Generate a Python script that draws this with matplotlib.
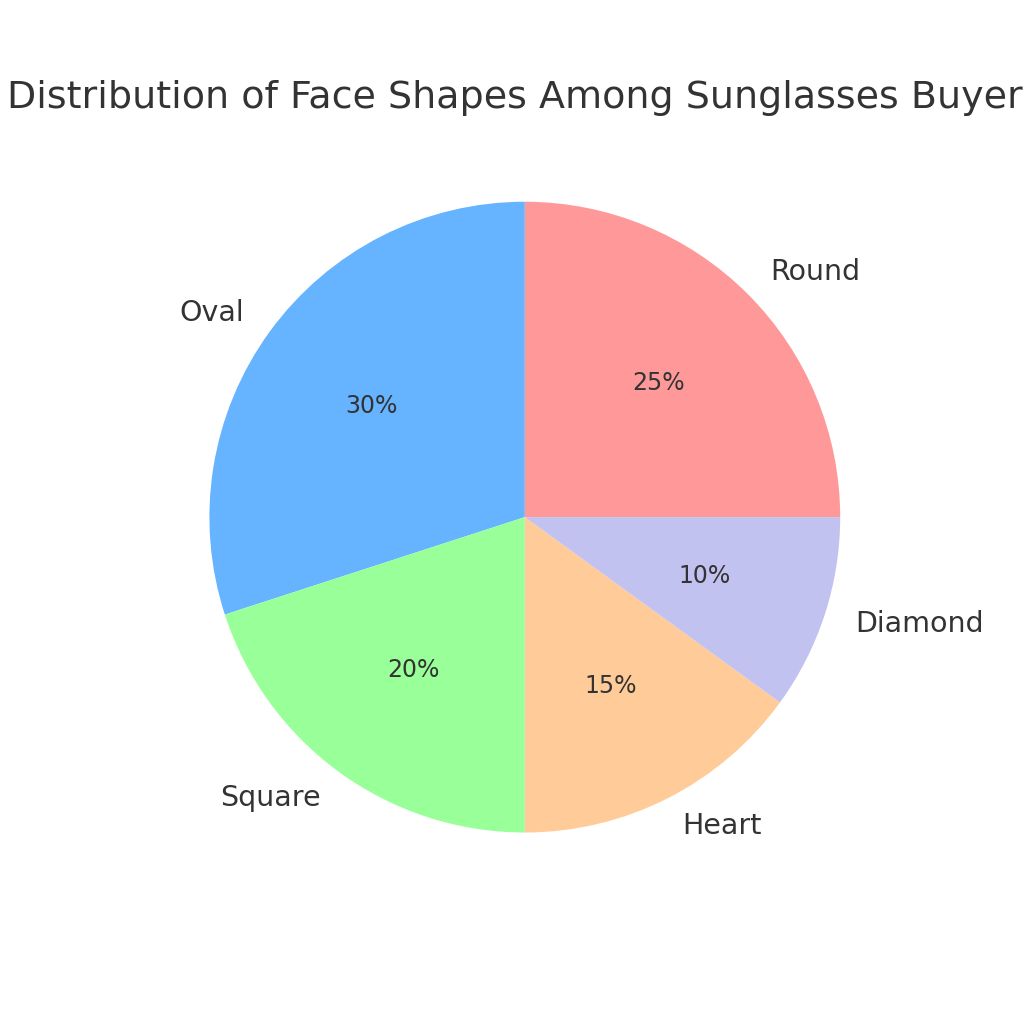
import matplotlib.pyplot as plt

# face shape shares
shapes = ['Round', 'Oval', 'Square', 'Heart', 'Diamond']
shares = [25, 30, 20, 15, 10]
colors = ['#ff9999', '#66b3ff', '#99ff99', '#ffcc99', '#c2c2f0']

plt.rcParams['text.color'] = '#333333'

fig, ax = plt.subplots(figsize=(8, 8), dpi=128)
wedges, texts, autotexts = ax.pie(shares, labels=shapes, colors=colors,
                                  autopct='%1.0f%%',
                                  textprops={'fontsize': 16, 'color': '#333333'})
for t in autotexts:
    t.set_fontsize(13.3)
# title is wider than the figure, as in the original
ax.set_title('Distribution of Face Shapes Among Sunglasses Buyers', fontsize=21.4,
             color='#333333', pad=8.5)
ax.set_xlim(-1.25, 1.25)
ax.set_ylim(-1.25, 1.25)
ax.set_aspect('equal')

plt.savefig('out.png')
